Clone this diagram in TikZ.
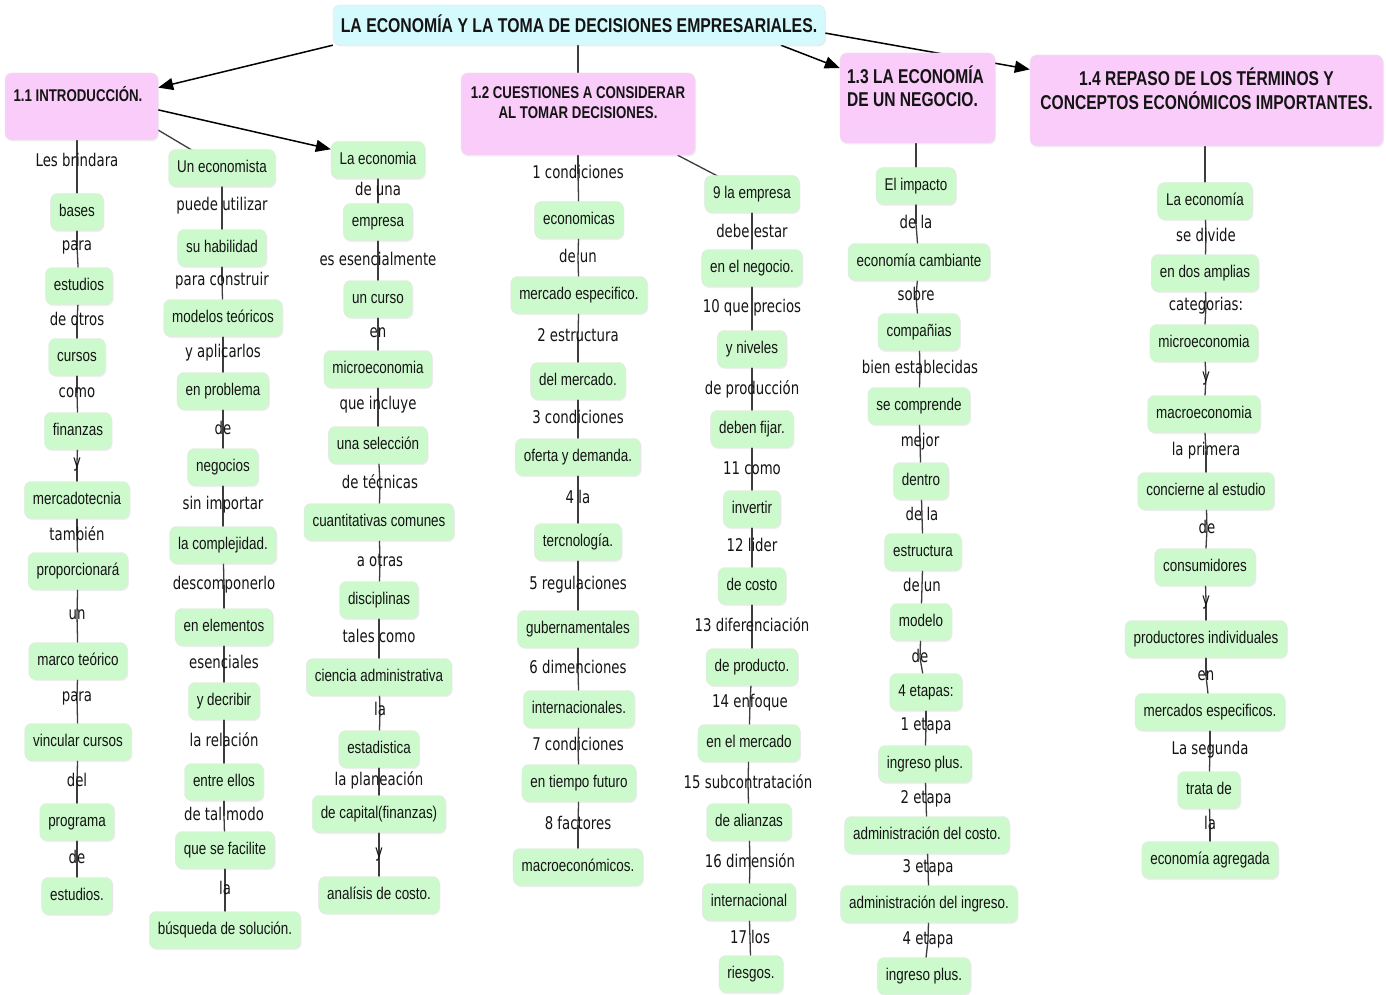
\documentclass[tikz,border=0pt]{standalone}
\usepackage{fontspec}
\usetikzlibrary{arrows.meta,backgrounds,shadows,calc}
\newfontfamily\cfam[FakeStretch=0.79]{Liberation Sans}
\newfontfamily\lfam[FakeStretch=0.76]{DejaVu Sans}
\newfontfamily\hfam[FakeStretch=0.78]{Liberation Sans}
\newfontfamily\tfam[FakeStretch=0.79]{Liberation Sans}
\definecolor{cgreen}{RGB}{204,250,204}
\definecolor{cpink}{RGB}{250,204,250}
\definecolor{ccyan}{RGB}{212,250,254}
\definecolor{cline}{RGB}{60,60,60}
\definecolor{ctext}{RGB}{20,20,20}
\newcommand\mkC[4]{\node[concept] (#1) at (#2,#3) {#4};}
\newcommand\mkL[4]{\node[lnk] (#1) at (#2,#3) {#4};}
\begin{document}
\begin{tikzpicture}[x=1pt,y=-1pt,
  concept/.style={draw=black!10, fill=cgreen, rounded corners=7pt, inner xsep=8.5pt, inner ysep=0pt,
    minimum height=37pt, text height=13pt, text depth=4pt, font=\cfam\fontsize{17}{20}\selectfont, text=ctext,
    drop shadow={shadow xshift=1pt, shadow yshift=-1.5pt, opacity=0.12}},
  lnk/.style={inner sep=0pt, text height=13pt, text depth=4pt, font=\lfam\fontsize{17.5}{20}\selectfont, text=ctext},
  head/.style={draw=black!10, fill=cpink, rounded corners=7pt, inner sep=4pt,
    font=\hfam\bfseries\fontsize{17}{22}\selectfont, text=ctext,
    drop shadow={shadow xshift=1pt, shadow yshift=-1.5pt, opacity=0.12}},
  bighead/.style={head, font=\hfam\bfseries\fontsize{20}{24}\selectfont},
  titlebox/.style={draw=black!10, fill=ccyan, rounded corners=7pt, inner sep=4pt,
    font=\tfam\bfseries\fontsize{20}{24}\selectfont, text=ctext,
    drop shadow={shadow xshift=1pt, shadow yshift=-1.5pt, opacity=0.12}},
  conn/.style={draw=cline, line width=1.3pt},
  arr/.style={draw=black, line width=1.5pt, -{Triangle[length=15pt,width=12pt]}},
]
\useasboundingbox (0,0) rectangle (1386,995);

% title and headers
\node[titlebox, minimum width=492pt, minimum height=40pt, text height=15pt, text depth=0pt] (title) at (579,25) {LA ECONOMÍA Y LA TOMA DE DECISIONES EMPRESARIALES.};
\node[head, minimum width=153pt, minimum height=67pt, text height=12pt, text depth=21pt] (i11) at (81.5,106.5)
  {\parbox[t]{136pt}{\raggedright\mbox{1.1 INTRODUCCIÓN.}}};
\node[head, minimum width=234pt, minimum height=82pt, text height=12pt, text depth=42pt] (i12) at (578,114)
  {\parbox[t]{226pt}{\centering\baselineskip=20pt \mbox{1.2 CUESTIONES A CONSIDERAR}\\\mbox{AL TOMAR DECISIONES.}}};
\node[bighead, minimum width=155pt, minimum height=90pt, text height=14pt, text depth=42pt] (i13) at (917.5,98)
  {\parbox[t]{141pt}{\raggedright\baselineskip=23pt \mbox{1.3 LA ECONOMÍA}\\\mbox{DE UN NEGOCIO.}}};
\node[bighead, minimum width=353pt, minimum height=91pt, text height=14pt, text depth=43pt] (i14) at (1206.5,100.5)
  {\parbox[t]{345pt}{\centering\baselineskip=24pt \mbox{1.4 REPASO DE LOS TÉRMINOS Y}\\\mbox{CONCEPTOS ECONÓMICOS IMPORTANTES.}}};

% column 1
\mkL{a1}{77}{162}{Les brindara}
\mkC{a2}{77}{212}{bases}
\mkL{a3}{77}{246}{para}
\mkC{a4}{79}{286}{estudios}
\mkL{a5}{77}{321}{de otros}
\mkC{a6}{77}{357}{cursos}
\mkL{a7}{77}{393}{como}
\mkC{a8}{78}{431}{finanzas}
\mkL{a9}{77}{463}{y}
\mkC{a10}{77}{500}{mercadotecnia}
\mkL{a11}{77}{536}{también}
\mkC{a12}{78}{571}{proporcionará}
\mkL{a13}{77}{615}{un}
\mkC{a14}{78}{661}{marco teórico}
\mkL{a15}{77}{697}{para}
\mkC{a16}{78}{742}{vincular cursos}
\mkL{a17}{77}{782}{del}
\mkC{a18}{77}{822}{programa}
\mkL{a19}{77}{859}{de}
\mkC{a20}{77}{896}{estudios.}

% column 2
\mkC{b1}{222}{168}{Un economista}
\mkL{b2}{222}{206}{puede utilizar}
\mkC{b3}{222}{248}{su habilidad}
\mkL{b4}{222}{281}{para construir}
\mkC{b5}{223}{318}{modelos teóricos}
\mkL{b6}{223}{353}{y aplicarlos}
\mkC{b7}{223}{391}{en problema}
\mkL{b8}{223}{430}{de}
\mkC{b9}{223}{467}{negocios}
\mkL{b10}{223}{505}{sin importar}
\mkC{b11}{223}{545}{la complejidad.}
\mkL{b12}{224}{585}{descomponerlo}
\mkC{b13}{224}{627}{en elementos}
\mkL{b14}{224}{664}{esenciales}
\mkC{b15}{224}{701}{y decribir}
\mkL{b16}{224}{742}{la relación}
\mkC{b17}{224}{782}{entre ellos}
\mkL{b18}{224}{816}{de tal modo}
\mkC{b19}{225}{850}{que se facilite}
\mkL{b20}{225}{890}{la}
\mkC{b21}{225}{930}{búsqueda de solución.}

% column 3
\mkC{c1}{378}{160}{La economia}
\mkL{c2}{378}{191}{de una}
\mkC{c3}{378}{222}{empresa}
\mkL{c4}{378}{261}{es esencialmente}
\mkC{c5}{378}{299}{un curso}
\mkL{c6}{378}{333}{en}
\mkC{c7}{378}{369}{microeconomia}
\mkL{c8}{378}{405}{que incluye}
\mkC{c9}{378}{445}{una selección}
\mkL{c10}{380}{484}{de técnicas}
\mkC{c11}{379}{522}{cuantitativas comunes}
\mkL{c12}{380}{562}{a otras}
\mkC{c13}{379}{600}{disciplinas}
\mkL{c14}{379}{638}{tales como}
\mkC{c15}{379}{677}{ciencia administrativa}
\mkL{c16}{380}{711}{la}
\mkC{c17}{379}{749}{estadistica}
\mkL{c18}{379}{781}{la planeación}
\mkC{c19}{379}{814}{de capital(finanzas)}
\mkL{c20}{379}{853}{y}
\mkC{c21}{379}{895}{analísis de costo.}

% column 4
\mkL{d1}{578}{174}{1 condiciones}
\mkC{d2}{579}{220}{economicas}
\mkL{d3}{578}{258}{de un}
\mkC{d4}{579}{295}{mercado especifico.}
\mkL{d5}{578}{337}{2 estructura}
\mkC{d6}{578}{381}{del mercado.}
\mkL{d7}{578}{419}{3 condiciones}
\mkC{d8}{578}{457}{oferta y demanda.}
\mkL{d9}{578}{499}{4 la}
\mkC{d10}{578}{542}{tercnología.}
\mkL{d11}{578}{585}{5 regulaciones}
\mkC{d12}{578}{629}{gubernamentales}
\mkL{d13}{578}{669}{6 dimenciones}
\mkC{d14}{579}{709}{internacionales.}
\mkL{d15}{578}{746}{7 condiciones}
\mkC{d16}{579}{783}{en tiempo futuro}
\mkL{d17}{578}{825}{8 factores}
\mkC{d18}{578}{867}{macroeconómicos.}

% column 5
\mkC{e1}{752}{194}{9 la empresa}
\mkL{e2}{752}{233}{debe estar}
\mkC{e3}{752}{268}{en el negocio.}
\mkL{e4}{752}{308}{10 que precios}
\mkC{e5}{752}{349}{y niveles}
\mkL{e6}{752}{390}{de producción}
\mkC{e7}{752}{429}{deben fijar.}
\mkL{e8}{752}{470}{11 como}
\mkC{e9}{752}{509}{invertir}
\mkL{e10}{752}{547}{12 lider}
\mkC{e11}{752}{586}{de costo}
\mkL{e12}{752}{627}{13 diferenciación}
\mkC{e13}{752}{667}{de producto.}
\mkL{e14}{750}{703}{14 enfoque}
\mkC{e15}{749}{743}{en el mercado}
\mkL{e16}{748}{784}{15 subcontratación}
\mkC{e17}{749}{822}{de alianzas}
\mkL{e18}{750}{863}{16 dimensión}
\mkC{e19}{749}{902}{internacional}
\mkL{e20}{750}{939}{17 los}
\mkC{e21}{751}{974}{riesgos.}

% column 6
\mkC{f1}{916}{186}{El impacto}
\mkL{f2}{916}{224}{de la}
\mkC{f3}{919}{262}{economía cambiante}
\mkL{f4}{916}{296}{sobre}
\mkC{f5}{919}{332}{compañias}
\mkL{f6}{920}{369}{bien establecidas}
\mkC{f7}{919}{406}{se comprende}
\mkL{f8}{920}{442}{mejor}
\mkC{f9}{921}{481}{dentro}
\mkL{f10}{922}{516}{de la}
\mkC{f11}{923}{552}{estructura}
\mkL{f12}{922}{587}{de un}
\mkC{f13}{921}{622}{modelo}
\mkL{f14}{920}{658}{de}
\mkC{f15}{926}{692}{4 etapas:}
\mkL{f16}{926}{726}{1 etapa}
\mkC{f17}{925}{764}{ingreso plus.}
\mkL{f18}{926}{799}{2 etapa}
\mkC{f19}{927}{835}{administración del costo.}
\mkL{f20}{928}{868}{3 etapa}
\mkC{f21}{929}{904}{administración del ingreso.}
\mkL{f22}{928}{940}{4 etapa}
\mkC{f23}{924}{976}{ingreso plus.}

% column 7
\mkC{g1}{1205}{201}{La economía}
\mkL{g2}{1206}{237}{se divide}
\mkC{g3}{1205}{273}{en dos amplias}
\mkL{g4}{1206}{306}{categorias:}
\mkC{g5}{1204}{343}{microeconomia}
\mkL{g6}{1206}{377}{y}
\mkC{g7}{1204}{414}{macroeconomia}
\mkL{g8}{1206}{451}{la primera}
\mkC{g9}{1206}{491}{concierne al estudio}
\mkL{g10}{1207}{529}{de}
\mkC{g11}{1205}{567}{consumidores}
\mkL{g12}{1206}{601}{y}
\mkC{g13}{1206}{639}{productores individuales}
\mkL{g14}{1206}{676}{en}
\mkC{g15}{1210}{712}{mercados especificos.}
\mkL{g16}{1210}{750}{La segunda}
\mkC{g17}{1209}{790}{trata de}
\mkL{g18}{1210}{825}{la}
\mkC{g19}{1210}{860}{economía agregada}

\begin{pgfonlayer}{background}
  \fill[white] (0,0) rectangle (1386,995);
  % title connections
  \draw[arr] (title.south west) -- ($(i11.north east)!0.22!(i11.south east)$);
  \draw[conn] (title.south -| i12.north) -- (i12.north);
  \draw[arr] ($(title.south west)!0.91!(title.south east)$) -- (i13);
  \draw[arr] ($(title.north east)!0.7!(title.south east)$) -- (i14);
  % header to columns
  \draw[conn] (i11.south -| a1.center) -- (a1.center);
  \draw[conn] ($(i11.north east)!0.85!(i11.south east)$) -- (b1.center);
  \draw[arr] ($(i11.north east)!0.55!(i11.south east)$) -- (c1);
  \draw[conn] (i12.south -| d1.center) -- (d1.center);
  \draw[conn] ($(i12.south west)!0.925!(i12.south east)$) -- (e1.center);
  \draw[conn] (i13.south -| f1.center) -- (f1.center);
  \draw[conn] (i14.south -| g1.center) -- (g1.center);
  % chains
  \foreach \i [remember=\i as \j (initially 1)] in {2,...,20} {\draw[conn] (a\j.center) -- (a\i.center);}
  \foreach \i [remember=\i as \j (initially 1)] in {2,...,21} {\draw[conn] (b\j.center) -- (b\i.center);}
  \foreach \i [remember=\i as \j (initially 1)] in {2,...,21} {\draw[conn] (c\j.center) -- (c\i.center);}
  \foreach \i [remember=\i as \j (initially 1)] in {2,...,18} {\draw[conn] (d\j.center) -- (d\i.center);}
  \foreach \i [remember=\i as \j (initially 1)] in {2,...,21} {\draw[conn] (e\j.center) -- (e\i.center);}
  \foreach \i [remember=\i as \j (initially 1)] in {2,...,23} {\draw[conn] (f\j.center) -- (f\i.center);}
  \foreach \i [remember=\i as \j (initially 1)] in {2,...,19} {\draw[conn] (g\j.center) -- (g\i.center);}
\end{pgfonlayer}
\end{tikzpicture}
\end{document}
